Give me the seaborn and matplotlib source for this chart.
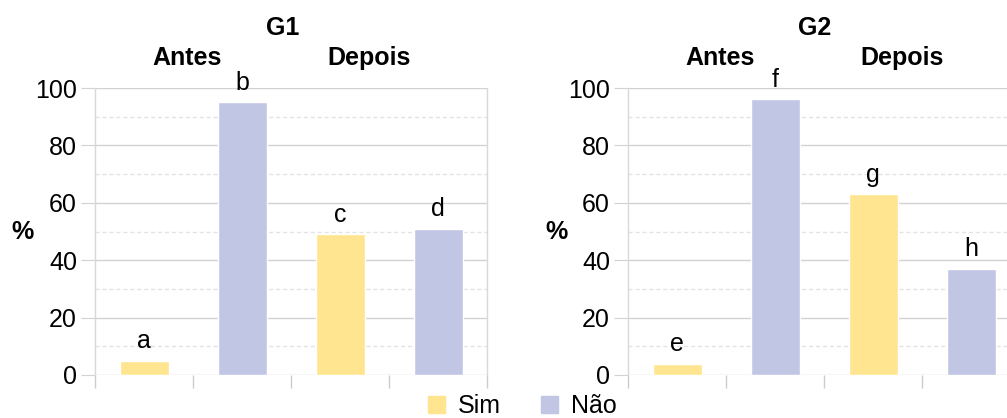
import pandas as pd
import matplotlib.pyplot as plt
import seaborn as sns
from matplotlib.patches import Patch

grupos = ['G1', 'G2']
momentos = ['Antes', 'Antes', 'Depois', 'Depois']
respostas = ['Sim', 'Não', 'Sim', 'Não']
valores_g1 = [5, 95, 49, 51]
valores_g2 = [4, 96, 63, 37]
letras_g1 = ['a', 'b', 'c', 'd']
letras_g2 = ['e', 'f', 'g', 'h']

cores = {'Sim': '#FFE590', 'Não': '#C1C6E4'}

sns.set_style('white')
plt.rcParams['font.family'] = ['Liberation Sans', 'DejaVu Sans']
plt.rcParams['text.color'] = 'black'
plt.rcParams['ytick.labelcolor'] = 'black'

fig = plt.figure(figsize=(10.07, 4.18), dpi=100)
W, H = 1007, 418

def painel(left_px, valores, letras):
    df = pd.DataFrame({
        'barra': [m + ' ' + r for m, r in zip(momentos, respostas)],
        'resposta': respostas,
        'valor': valores,
    })
    ax = fig.add_axes([left_px / W, (H - 375) / H, 392 / W, 287 / H])
    sns.barplot(data=df, x='barra', y='valor', hue='resposta', dodge=False,
                palette=cores, saturation=1, width=0.5, legend=False,
                ax=ax, zorder=3)
    ax.set_xlim(-0.5, 3.5)
    ax.set_ylim(0, 100)
    ax.set_yticks([0, 20, 40, 60, 80, 100])
    ax.set_yticks([10, 30, 50, 70, 90], minor=True)
    ax.set_xticks([])
    ax.set_xticks([-0.5, 0.5, 1.5, 2.5, 3.5], minor=True)
    ax.grid(axis='y', which='major', color='#d2d2d2', lw=1, zorder=0)
    ax.grid(axis='y', which='minor', color='#e4e4e4', lw=1, ls=(0, (3, 2)),
            zorder=0)
    ax.tick_params(axis='y', which='major', left=True, length=10,
                   color='#d2d2d2', labelsize=18, pad=3)
    ax.tick_params(axis='y', which='minor', left=False)
    ax.tick_params(axis='x', which='minor', bottom=True, length=9,
                   width=1, color='#cccccc')
    for lado, s in ax.spines.items():
        if lado in ('left', 'right'):
            s.set_color('#d8d8d8')
            s.set_linewidth(1)
        else:
            s.set_visible(False)
    ax.set_xlabel('')
    ax.set_ylabel('')
    for i, (v, l) in enumerate(zip(valores, letras)):
        ax.annotate(l, (i, v), xytext=(0, 9), textcoords='offset points',
                    ha='center', va='baseline', fontsize=18)
    return ax

painel(95, valores_g1, letras_g1)
painel(628, valores_g2, letras_g2)

for txt, x, y in [('G1', 283, 28), ('Antes', 187, 58), ('Depois', 369, 58),
                  ('G2', 815, 28), ('Antes', 720, 58), ('Depois', 902, 58)]:
    fig.text(x / W, 1 - y / H, txt, ha='center', va='center',
             fontsize=18, fontweight='bold')

for x in [22, 557]:
    fig.text(x / W, 1 - 232 / H, '%', ha='center', va='center',
             fontsize=18, fontweight='bold')

handles = [Patch(color=cores['Sim'], label='Sim'),
           Patch(color=cores['Não'], label='Não')]
fig.legend(handles=handles, loc='center', ncol=2, frameon=False,
           bbox_to_anchor=(522 / W, 1 - 406 / H), fontsize=18,
           handlelength=0.7, handleheight=0.7, columnspacing=1.6,
           handletextpad=0.5)

fig.savefig('out.png', dpi=100)
